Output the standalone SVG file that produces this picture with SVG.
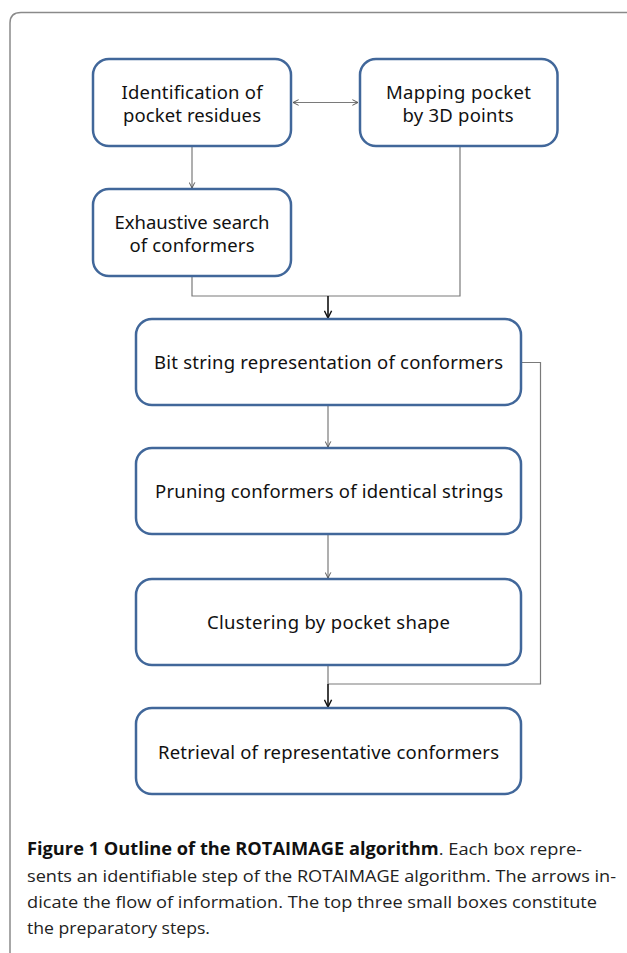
<svg xmlns="http://www.w3.org/2000/svg" width="627" height="953" viewBox="0 0 627 953">
<defs>
<style>
.box{fill:#fff;stroke:#41679a;stroke-width:2.5}
.lbl{font-family:"Noto Sans","Open Sans",sans-serif;font-size:18.5px;fill:#111;text-anchor:middle}
.thin{fill:none;stroke:#7a7a7a;stroke-width:1.2}
.thick{fill:none;stroke:#111;stroke-width:1.6}
.cap{font-family:"Open Sans","Noto Sans",sans-serif;font-size:17px;fill:#222}
.capb{font-weight:bold;fill:#111}
</style>
<marker id="ah" viewBox="0 0 10 10" refX="9" refY="5" markerWidth="7" markerHeight="7" markerUnits="userSpaceOnUse" orient="auto-start-reverse">
<path d="M1,1 L9,5 L1,9" fill="none" stroke="#555" stroke-width="1.4"/>
</marker>
<marker id="ahb" viewBox="0 0 10 10" refX="9" refY="5" markerWidth="9" markerHeight="9" markerUnits="userSpaceOnUse" orient="auto">
<path d="M1,1 L9,5 L1,9" fill="none" stroke="#111" stroke-width="1.6"/>
</marker>
</defs>
<rect width="627" height="953" fill="#fff"/>
<path d="M10,953 L10,23 Q10,12.5 21,12.5 L627,12.5" fill="none" stroke="#8a8a8a" stroke-width="1.5"/>

<g id="connectors">
<line class="thin" x1="293" y1="102.5" x2="358" y2="102.5" marker-start="url(#ah)" marker-end="url(#ah)"/>
<line class="thin" x1="192" y1="147" x2="192" y2="188" marker-end="url(#ah)"/>
<polyline class="thin" points="192,277 192,296 460,296 460,146"/>
<line class="thick" x1="328" y1="296" x2="328" y2="318" marker-end="url(#ahb)"/>
<line class="thin" x1="328" y1="405" x2="328" y2="447" marker-end="url(#ah)"/>
<line class="thin" x1="328" y1="535" x2="328" y2="578" marker-end="url(#ah)"/>
<polyline class="thin" points="522,362.5 540.5,362.5 540.5,684 328,684"/>
<line class="thin" x1="328" y1="666" x2="328" y2="684"/>
<line class="thick" x1="328" y1="684" x2="328" y2="707" marker-end="url(#ahb)"/>
</g>

<g id="n1"><rect class="box" x="93" y="59" width="198" height="87" rx="16"/>
<text class="lbl" x="192" y="98.5" textLength="141" lengthAdjust="spacing">Identification of</text><text class="lbl" x="192" y="121.5" textLength="138" lengthAdjust="spacing">pocket residues</text></g>
<g id="n2"><rect class="box" x="360" y="59" width="197.5" height="87" rx="16"/>
<text class="lbl" x="458.5" y="98.5" textLength="145" lengthAdjust="spacing">Mapping pocket</text><text class="lbl" x="458" y="121.5" textLength="111" lengthAdjust="spacing">by 3D points</text></g>
<g id="n3"><rect class="box" x="93" y="189" width="198" height="87" rx="16"/>
<text class="lbl" x="192" y="228.5" textLength="155" lengthAdjust="spacing">Exhaustive search</text><text class="lbl" x="192" y="251.5" textLength="125" lengthAdjust="spacing">of conformers</text></g>
<g id="n4"><rect class="box" x="136" y="319" width="385" height="86" rx="16"/>
<text class="lbl" x="328.5" y="369" textLength="349" lengthAdjust="spacing">Bit string representation of conformers</text></g>
<g id="n5"><rect class="box" x="136" y="448" width="385" height="86" rx="16"/>
<text class="lbl" x="329" y="498" textLength="348" lengthAdjust="spacing">Pruning conformers of identical strings</text></g>
<g id="n6"><rect class="box" x="136" y="579" width="385" height="86" rx="16"/>
<text class="lbl" x="328.5" y="629" textLength="243" lengthAdjust="spacing">Clustering by pocket shape</text></g>
<g id="n7"><rect class="box" x="136" y="708" width="385" height="86" rx="16"/>
<text class="lbl" x="328.5" y="759" textLength="341" lengthAdjust="spacing">Retrieval of representative conformers</text></g>

<g id="caption">
<text class="cap" x="27" y="855" textLength="555" lengthAdjust="spacingAndGlyphs"><tspan class="capb">Figure 1 Outline of the ROTAIMAGE algorithm</tspan>. Each box repre-</text>
<text class="cap" x="27" y="882" textLength="589" lengthAdjust="spacingAndGlyphs">sents an identifiable step of the ROTAIMAGE algorithm. The arrows in-</text>
<text class="cap" x="27" y="908" textLength="570" lengthAdjust="spacingAndGlyphs">dicate the flow of information. The top three small boxes constitute</text>
<text class="cap" x="27" y="934" textLength="183" lengthAdjust="spacingAndGlyphs">the preparatory steps.</text>
</g>
</svg>
